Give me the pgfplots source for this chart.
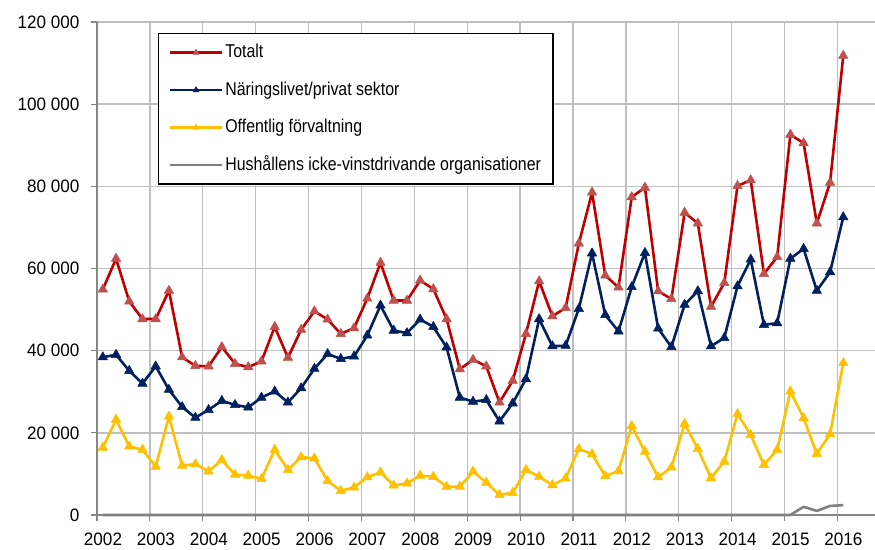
\documentclass[border=0pt]{standalone}
\usepackage{fontspec}
\setmainfont{Liberation Sans}[FakeStretch=0.95]
\newfontfamily\legfont{Liberation Sans}[FakeStretch=0.86]
\usepackage{pgfplots}
\pgfplotsset{compat=1.18}
\usepackage{pgfplotstable}
\definecolor{cRed}{HTML}{C00000}
\definecolor{cRedM}{HTML}{C0504D}
\definecolor{cBlue}{HTML}{002060}
\definecolor{cYel}{HTML}{FFC000}
\definecolor{cGray}{HTML}{808080}
\definecolor{cGrid}{HTML}{BFBFBF}
\definecolor{cAxis}{HTML}{868686}

\pgfplotstableread{
x tot nar off hus
2002.11 54900 38400 16400 0
2002.36 62400 39000 23200 0
2002.61 52000 35100 16700 0
2002.86 47700 32000 15900 0
2003.11 47700 36200 11800 0
2003.36 54600 30500 24000 0
2003.61 38400 26300 12000 0
2003.86 36300 23700 12400 0
2004.11 36200 25600 10600 0
2004.36 40900 27800 13400 0
2004.61 36800 26800 9800 0
2004.86 36000 26200 9600 0
2005.11 37400 28600 8800 0
2005.36 45800 30100 15900 0
2005.61 38300 27400 11000 0
2005.86 45100 30900 14100 0
2006.11 49600 35600 13800 0
2006.36 47600 39200 8300 0
2006.61 44100 38000 5900 0
2006.86 45500 38600 6700 0
2007.11 52700 43700 9200 0
2007.36 61400 51000 10400 0
2007.61 52200 44900 7200 0
2007.86 52200 44300 7700 0
2008.11 57100 47600 9600 0
2008.36 55000 45800 9300 0
2008.61 47700 40800 6900 0
2008.86 35500 28600 6900 0
2009.11 37800 27600 10600 0
2009.36 36200 28000 7900 0
2009.61 27400 22800 4900 0
2009.86 32700 27200 5400 0
2010.11 44100 33100 11000 0
2010.36 56900 47700 9300 0
2010.61 48400 41100 7300 0
2010.86 50400 41200 8900 0
2011.11 66100 50200 16100 0
2011.36 78500 63700 14800 0
2011.61 58300 48700 9500 0
2011.86 55400 44700 10700 0
2012.11 77400 55500 21700 0
2012.36 79700 63800 15400 0
2012.61 54500 45400 9200 0
2012.86 52600 40900 11600 0
2013.11 73600 51200 22200 0
2013.36 71000 54500 16100 0
2013.61 50700 41100 9000 0
2013.86 56500 43100 13000 0
2014.11 80100 55700 24600 0
2014.36 81500 62200 19500 0
2014.61 58700 46300 12200 0
2014.86 62800 46700 15900 0
2015.11 92600 62400 30100 0
2015.36 90500 64800 23600 2000
2015.61 71000 54600 14900 1000
2015.86 80900 59100 19700 2200
2016.11 111800 72500 37000 2400
}\data

\begin{document}
\begin{tikzpicture}
\path[use as bounding box] (-97pt,-34pt) rectangle (778pt,515pt);
\begin{axis}[
  at={(0pt,0pt)}, anchor=south west,
  scale only axis, width=778pt, height=493pt,
  xmin=2002, xmax=2016.71, ymin=0, ymax=120000,
  clip=false,
  scaled y ticks=false, scaled x ticks=false,
  xtick={2002,2003,2004,2005,2006,2007,2008,2009,2010,2011,2012,2013,2014,2015,2016},
  xticklabels={2002,2003,2004,2005,2006,2007,2008,2009,2010,2011,2012,2013,2014,2015,2016},
  ytick={0,20000,40000,60000,80000,100000,120000},
  yticklabels={0,20 000,40 000,60 000,80 000,100 000,120 000},
  xticklabel style={xshift=6pt, yshift=-8pt},
  yticklabel style={xshift=-8pt},
  tick label style={font=\fontsize{18}{20}\selectfont, text=black},
  axis lines=left, axis line style={-, cAxis, line width=1.5pt},
  tick align=outside, major tick length=6pt, tick style={cAxis, line width=1.2pt},
  grid=major, grid style={cGrid, line width=1.4pt},
  legend cell align=left,
  legend image code/.code={\draw[#1, mark repeat=2, mark phase=2, mark size=3.5pt] plot coordinates {(0pt,0pt) (26pt,0pt) (52pt,0pt)};},
  legend style={at={(rel axis cs:0.0784,0.978)}, anchor=north west, draw=black, line width=1.5pt,
    font=\legfont\fontsize{18.5}{20}\selectfont,
    nodes={inner sep=2pt, text height=14pt, text depth=4pt},
    row sep=15.5pt, inner ysep=8pt, inner xsep=10pt},
  every axis plot/.append style={line width=2.6pt, line join=round},
]
\addplot[cRed, mark=triangle*, mark size=5.5pt, mark options={cRedM, fill=cRedM, line width=0.5pt}] table[x=x,y=tot]{\data};
\addlegendentry{Totalt}
\addplot[cBlue, mark=triangle*, mark size=5.5pt, mark options={cBlue, fill=cBlue, line width=0.5pt}] table[x=x,y=nar]{\data};
\addlegendentry{Näringslivet/privat sektor}
\addplot[cYel, mark=triangle*, mark size=5.5pt, mark options={cYel, fill=cYel, line width=0.5pt}] table[x=x,y=off]{\data};
\addlegendentry{Offentlig förvaltning}
\addplot[cGray, no marks] table[x=x,y=hus]{\data};
\addlegendentry{Hushållens icke-vinstdrivande organisationer}
\end{axis}
\end{tikzpicture}
\end{document}
